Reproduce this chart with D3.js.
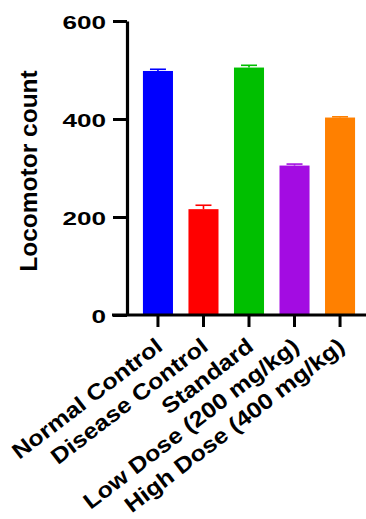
<!DOCTYPE html>
<html>
<head>
<meta charset="utf-8">
<script src="https://cdn.jsdelivr.net/npm/d3@7"></script>
<style>
  html, body { margin: 0; padding: 0; background: #fff; }
  svg { display: block; }
  text { font-family: "Liberation Sans", Arial, sans-serif; font-weight: bold; fill: #000; }
</style>
</head>
<body>
<svg id="chart" width="366" height="519"></svg>
<script>
const categories = ["Normal Control", "Disease Control", "Standard", "Low Dose (200 mg/kg)", "High Dose (400 mg/kg)"];
const means = [498, 216, 505, 305, 403];
const errors = [3.5, 8, 4.6, 3, 1.5];
const colors = ["#0000ff", "#ff0000", "#00bf00", "#a30ce2", "#ff8000"];
const yTicks = [0, 200, 400, 600];
const yTitle = "Locomotor count";

const svg = d3.select("#chart");

const x = d3.scaleBand().domain(categories).range([127, 371]).paddingInner(0.34).paddingOuter(0.35);
const y = d3.scaleLinear().domain([0, 600]).range([315, 21]);

const data = categories.map((c, i) => ({ c, m: means[i], e: errors[i], col: colors[i] }));

// bars
svg.append("g").selectAll("rect").data(data).join("rect")
  .attr("x", d => x(d.c))
  .attr("width", x.bandwidth())
  .attr("y", d => y(d.m))
  .attr("height", d => y(0) - y(d.m))
  .attr("fill", d => d.col);

// error bars (upper)
const eb = svg.append("g").selectAll("g").data(data).join("g");
eb.append("line")
  .attr("x1", d => x(d.c) + x.bandwidth() / 2)
  .attr("x2", d => x(d.c) + x.bandwidth() / 2)
  .attr("y1", d => y(d.m))
  .attr("y2", d => y(d.m + d.e))
  .attr("stroke", d => d.col).attr("stroke-width", 1.6);
eb.append("line")
  .attr("x1", d => x(d.c) + x.bandwidth() / 2 - 8)
  .attr("x2", d => x(d.c) + x.bandwidth() / 2 + 8)
  .attr("y1", d => y(d.m + d.e))
  .attr("y2", d => y(d.m + d.e))
  .attr("stroke", d => d.col).attr("stroke-width", 1.6);

// y axis
const yAxis = svg.append("g").attr("transform", "translate(127,0)")
  .call(d3.axisLeft(y).tickValues(yTicks).tickSize(14).tickSizeOuter(0).tickFormat(d3.format("d")));
yAxis.select(".domain").attr("stroke", "#000").attr("stroke-width", 3.2);
yAxis.selectAll(".tick line").attr("stroke", "#000").attr("stroke-width", 3);
yAxis.selectAll(".tick text")
  .attr("x", 0).attr("dy", "0.42em")
  .attr("text-anchor", "end")
  .attr("transform", "translate(-21,0) scale(1.45,1)")
  .style("font-size", "18px").style("font-weight", "bold")
  .style("font-family", "'Liberation Sans', Arial, sans-serif").attr("fill", "#000");

// x axis
const xAxis = svg.append("g").attr("transform", "translate(0,315)")
  .call(d3.axisBottom(x).tickSize(12).tickSizeOuter(0));
xAxis.select(".domain").attr("stroke", "#000").attr("stroke-width", 3.2)
  .attr("d", "M112,0H366");
xAxis.selectAll(".tick line").attr("stroke", "#000").attr("stroke-width", 3);
xAxis.selectAll(".tick text").remove();
xAxis.selectAll(".tick").append("text")
  .attr("text-anchor", "end")
  .attr("transform", "translate(6,34) rotate(-37.5) scale(1.14,1)")
  .style("font-size", "22px")
  .text(d => d);

// y title
svg.append("text")
  .attr("text-anchor", "middle")
  .attr("transform", "translate(37,171) rotate(-90)")
  .style("font-size", "24.5px")
  .text(yTitle);
</script>
</body>
</html>
